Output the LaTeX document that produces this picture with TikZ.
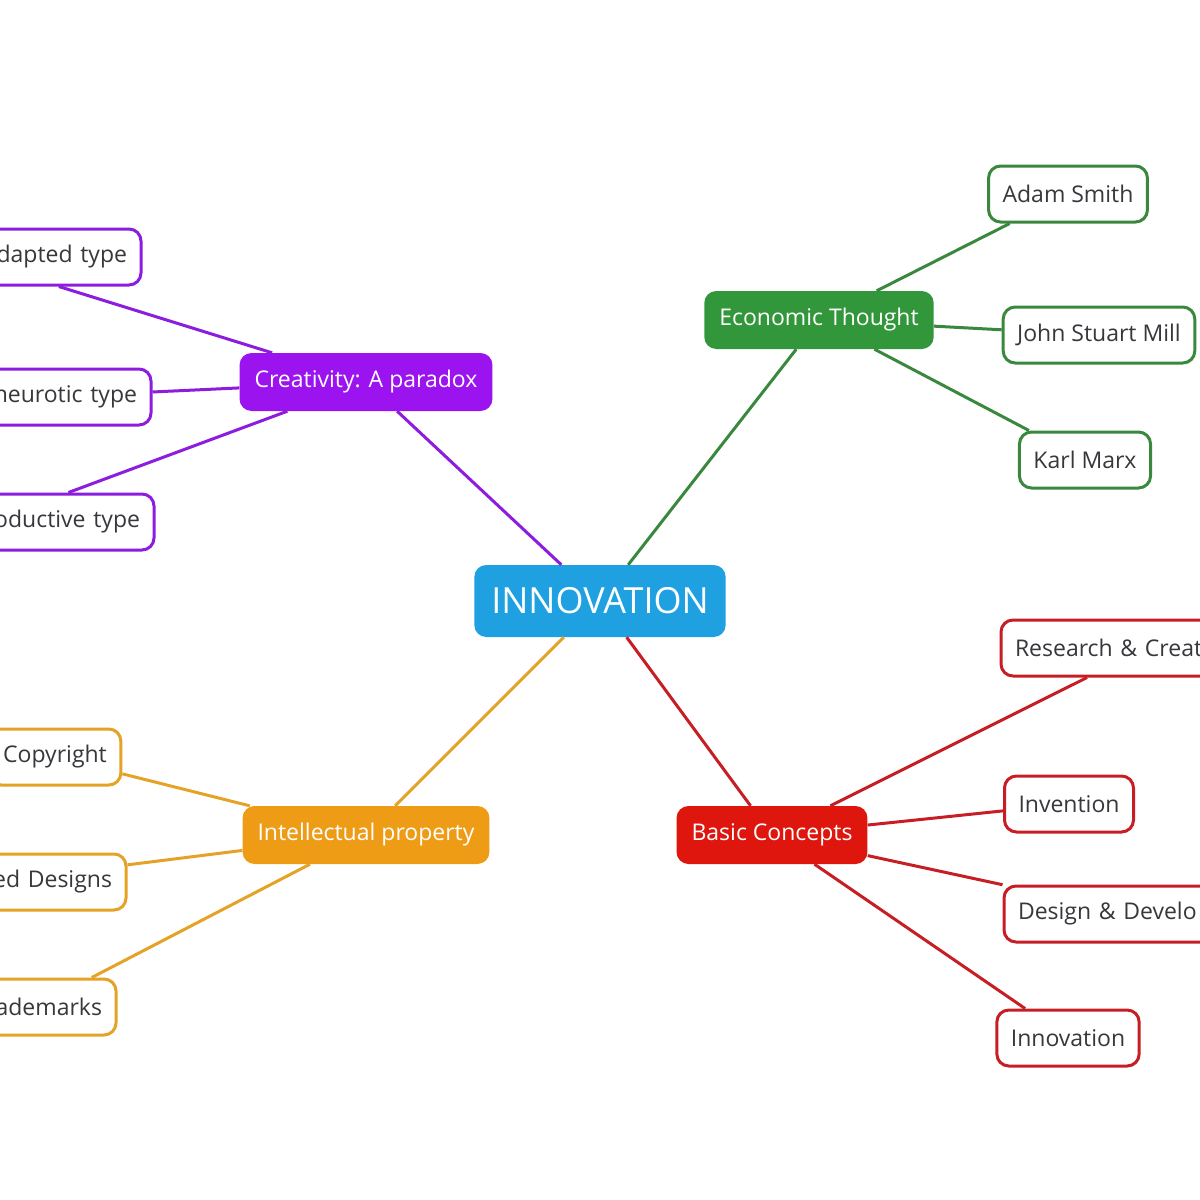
\documentclass[tikz,border=0pt]{standalone}
\usepackage{fontspec}
\setmainfont{Open Sans}
\definecolor{hubblue}{RGB}{30,160,225}
\definecolor{creapurple}{RGB}{155,20,240}
\definecolor{ecogreen}{RGB}{50,150,58}
\definecolor{iporange}{RGB}{238,156,22}
\definecolor{basicred}{RGB}{222,22,14}
\definecolor{crealine}{RGB}{140,28,222}
\definecolor{ecoline}{RGB}{58,136,62}
\definecolor{ipline}{RGB}{228,162,38}
\definecolor{basicline}{RGB}{198,30,36}
\definecolor{leaftext}{RGB}{55,55,60}
\begin{document}
\begin{tikzpicture}[x=1pt,y=-1pt,
 hub/.style={rounded corners=12pt,fill=hubblue,text=white,font=\fontsize{36}{40}\selectfont,minimum height=72pt,inner xsep=17pt},
 branch/.style={rounded corners=12pt,fill=#1,text=white,font=\fontsize{23}{27}\selectfont,minimum height=58pt,inner xsep=15pt},
 leaf/.style={rounded corners=12pt,draw=#1,line width=3pt,fill=white,text=leaftext,font=\fontsize{23}{27}\selectfont,minimum height=56pt,inner xsep=14pt},
 link/.style={draw=#1,line width=3pt}]
 \useasboundingbox (0,0) rectangle (1200,1200);
 \clip (0,0) rectangle (1200,1200);
 % centre and branches
 \node[hub] (inno) at (600,601) {INNOVATION};
 \node[branch=creapurple] (crea) at (366,382) {Creativity: A paradox};
 \node[branch=ecogreen] (eco) at (819,320) {Economic Thought};
 \node[branch=iporange] (ip) at (366,835) {Intellectual property};
 \node[branch=basicred] (basic) at (772,835) {Basic Concepts};
 % leaves
 \node[leaf=crealine,text width=326pt,align=right] (adapted) at (-36,257) {dapted type};
 \node[leaf=crealine,text width=184pt,align=right] (neurotic) at (45,397) {neurotic type};
 \node[leaf=crealine,text width=302pt,align=right] (productive) at (-11,522) {oductive type};
 \node[leaf=ecoline] (smith) at (1068,194) {Adam Smith};
 \node[leaf=ecoline] (mill) at (1099,335) {John Stuart Mill};
 \node[leaf=ecoline] (marx) at (1085,460) {Karl Marx};
 \node[leaf=ipline] (copy) at (55,757) {Copyright};
 \node[leaf=ipline,text width=244pt,align=right] (designs) at (-10,882) {ed Designs};
 \node[leaf=ipline,text width=134pt,align=right] (marks) at (35,1007) {ademarks};
 \node[leaf=basicline,text width=262pt,align=left] (research) at (1146,648) {Research \& Creat};
 \node[leaf=basicline] (invent) at (1069,804) {Invention};
 \node[leaf=basicline,text width=242pt,align=left] (develop) at (1139,914) {Design \& Develo};
 \node[leaf=basicline] (innov) at (1068,1038) {Innovation};
 % connectors
 \draw[link=crealine] (inno) -- (crea);
 \draw[link=ecoline] (inno) -- (eco);
 \draw[link=ipline] (inno) -- (ip);
 \draw[link=basicline] (inno) -- (basic);
 \draw[link=crealine] (crea) -- (adapted);
 \draw[link=crealine] (crea) -- (neurotic);
 \draw[link=crealine] (crea) -- (productive);
 \draw[link=ecoline] (eco) -- (smith);
 \draw[link=ecoline] (eco) -- (mill);
 \draw[link=ecoline] (eco) -- (marx);
 \draw[link=ipline] (ip) -- (copy);
 \draw[link=ipline] (ip) -- (designs);
 \draw[link=ipline] (ip) -- (marks);
 \draw[link=basicline] (basic) -- (research);
 \draw[link=basicline] (basic) -- (invent);
 \draw[link=basicline] (basic) -- (develop);
 \draw[link=basicline] (basic) -- (innov);
\end{tikzpicture}
\end{document}
